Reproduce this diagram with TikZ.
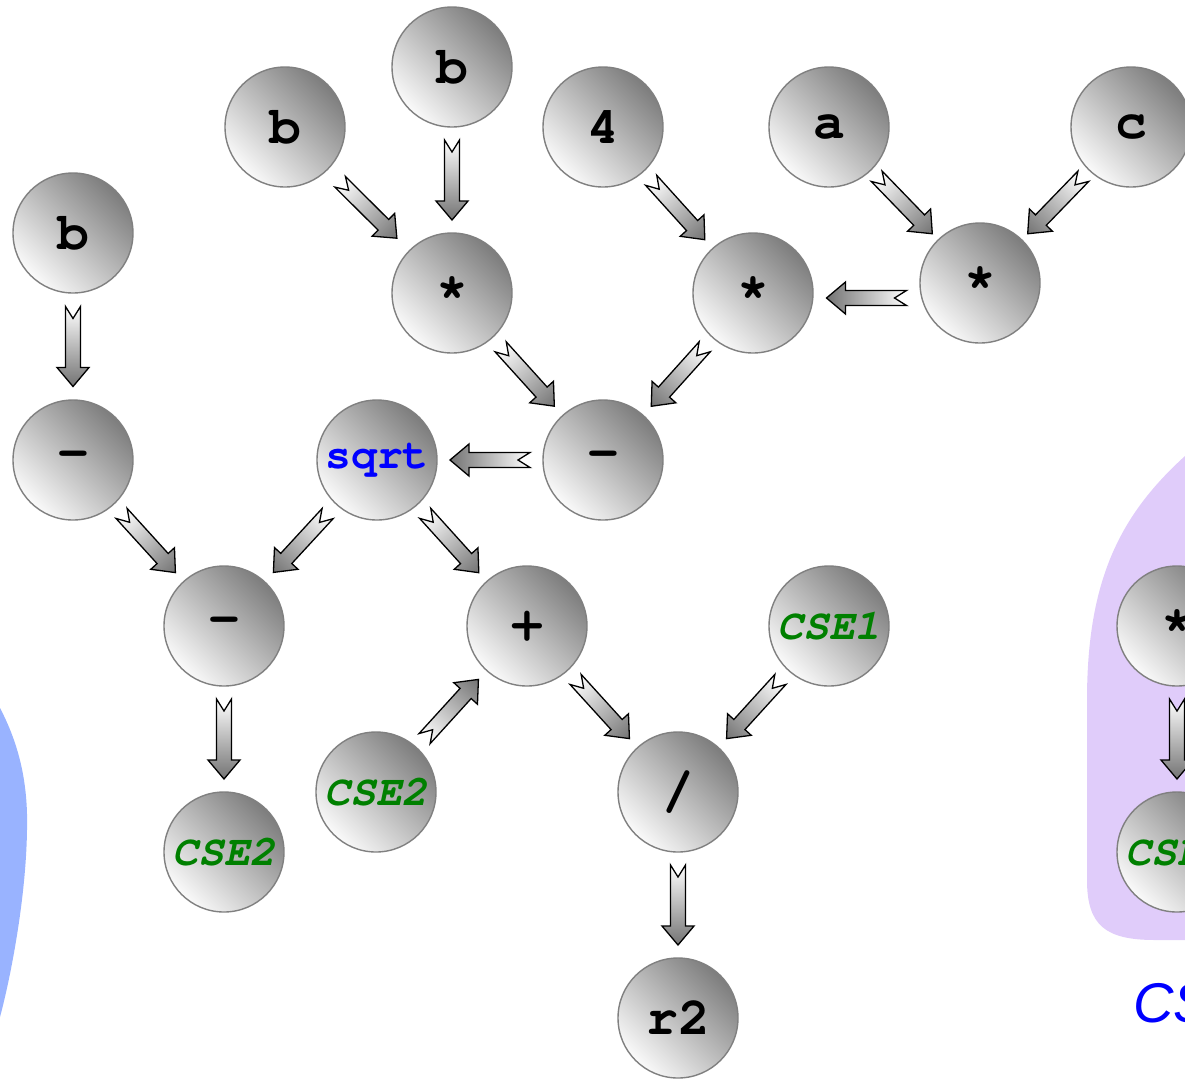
\documentclass[tikz,border=0pt]{standalone}
\usepackage{fontspec}
\setsansfont{Liberation Sans}
\newfontfamily\cursorfont{TeX Gyre Cursor}
\usetikzlibrary{calc}
\definecolor{nodedark}{RGB}{125,125,125}
\definecolor{nodelight}{RGB}{250,250,250}
\definecolor{arrowdark}{RGB}{115,115,115}
\definecolor{csegreen}{RGB}{0,128,0}
\definecolor{sqrtblue}{RGB}{0,0,255}
\definecolor{purpleblob}{RGB}{224,204,250}
\definecolor{blueblob}{RGB}{153,179,255}
\tikzset{
  ball/.style={circle, minimum size=120pt, inner sep=0pt, draw=gray, line width=1.4pt,
    top color=nodedark, bottom color=nodelight, shading angle=-45,
    font=\cursorfont\bfseries\fontsize{53}{53}\selectfont},
  sqrtlbl/.style={text=sqrtblue, font=\cursorfont\bfseries\fontsize{43}{43}\selectfont},
  cselbl/.style={text=csegreen, font=\cursorfont\bfseries\itshape\fontsize{43}{43}\selectfont},
  fatarr/.style={draw=black, line width=1.3pt, left color=white, right color=arrowdark, line join=miter},
}
\newcommand\fatarrow[2]{%
  \pgfmathanglebetweenpoints{\pgfpointanchor{#1}{center}}{\pgfpointanchor{#2}{center}}%
  \xdef\arrang{\pgfmathresult}%
  \coordinate (arrmid) at ($(#1)!0.5!(#2)$);%
  \begin{scope}[transform canvas={shift={(arrmid)},rotate=\arrang}]
    \path[fatarr] (-40,7.5) -- (21,7.5) -- (21,16) -- (40,0) -- (21,-16) -- (21,-7.5) -- (-40,-7.5) -- (-28,0) -- cycle;
  \end{scope}}
\begin{document}
\begin{tikzpicture}[x=1pt,y=1pt]
\useasboundingbox (0,0) rectangle (1185,-1079);
% background blobs
\fill[purpleblob] (1185,-456) .. controls (1120,-515) and (1087,-580) .. (1087,-700)
  -- (1087,-880) .. controls (1087,-925) and (1105,-940) .. (1155,-940) -- (1200,-940) -- (1200,-456) -- cycle;
\fill[blueblob] (-5,-700) -- (0,-708) .. controls (22,-750) and (28,-790) .. (27,-830)
  .. controls (26,-900) and (10,-980) .. (0,-1017) -- (-5,-1017) -- cycle;
% nodes
\node[ball] (b1) at (73,-233) {b};
\node[ball] (b2) at (285,-127) {b};
\node[ball] (b3) at (452,-67) {b};
\node[ball] (n4) at (603,-127) {4};
\node[ball] (na) at (829,-127) {a};
\node[ball] (nc) at (1131,-127) {c};
\node[ball] (m1) at (452,-293) {*};
\node[ball] (m2) at (753,-293) {*};
\node[ball] (m3) at (980,-283) {*};
\node[ball] (s1) at (73,-460) {-};
\node[ball, sqrtlbl] (sq) at (377,-460) {sqrt};
\node[ball] (s2) at (603,-460) {-};
\node[ball] (s3) at (224,-626) {-};
\node[ball] (pl) at (527,-626) {+};
\node[ball, cselbl] (cse1) at (829,-626) {CSE1};
\node[ball, cselbl] (cse2a) at (376,-792) {CSE2};
\node[ball] (dv) at (678,-792) {/};
\node[ball, cselbl] (cse2b) at (224,-852) {CSE2};
\node[ball] (r2) at (678,-1018) {r2};
\node[ball] (m4) at (1177,-626) {*};
\node[ball, cselbl] (cse3) at (1177,-852) {CSE\phantom{1}};
\node[anchor=base west, text=sqrtblue, font=\sffamily\itshape\fontsize{56}{56}\selectfont, inner sep=0pt] (cstext) at (1133,-1022) {CS};
% helper coordinates for the horizontal arrow
\coordinate (m3a) at (980,-298);
\coordinate (m2a) at (753,-298);
% arrows
\fatarrow{b1}{s1}
\fatarrow{b2}{m1}
\fatarrow{b3}{m1}
\fatarrow{n4}{m2}
\fatarrow{na}{m3}
\fatarrow{nc}{m3}
\fatarrow{m3a}{m2a}
\fatarrow{m1}{s2}
\fatarrow{m2}{s2}
\fatarrow{s2}{sq}
\fatarrow{s1}{s3}
\fatarrow{sq}{s3}
\fatarrow{sq}{pl}
\fatarrow{s3}{cse2b}
\fatarrow{cse2a}{pl}
\fatarrow{pl}{dv}
\fatarrow{cse1}{dv}
\fatarrow{dv}{r2}
\fatarrow{m4}{cse3}
\end{tikzpicture}
\end{document}
